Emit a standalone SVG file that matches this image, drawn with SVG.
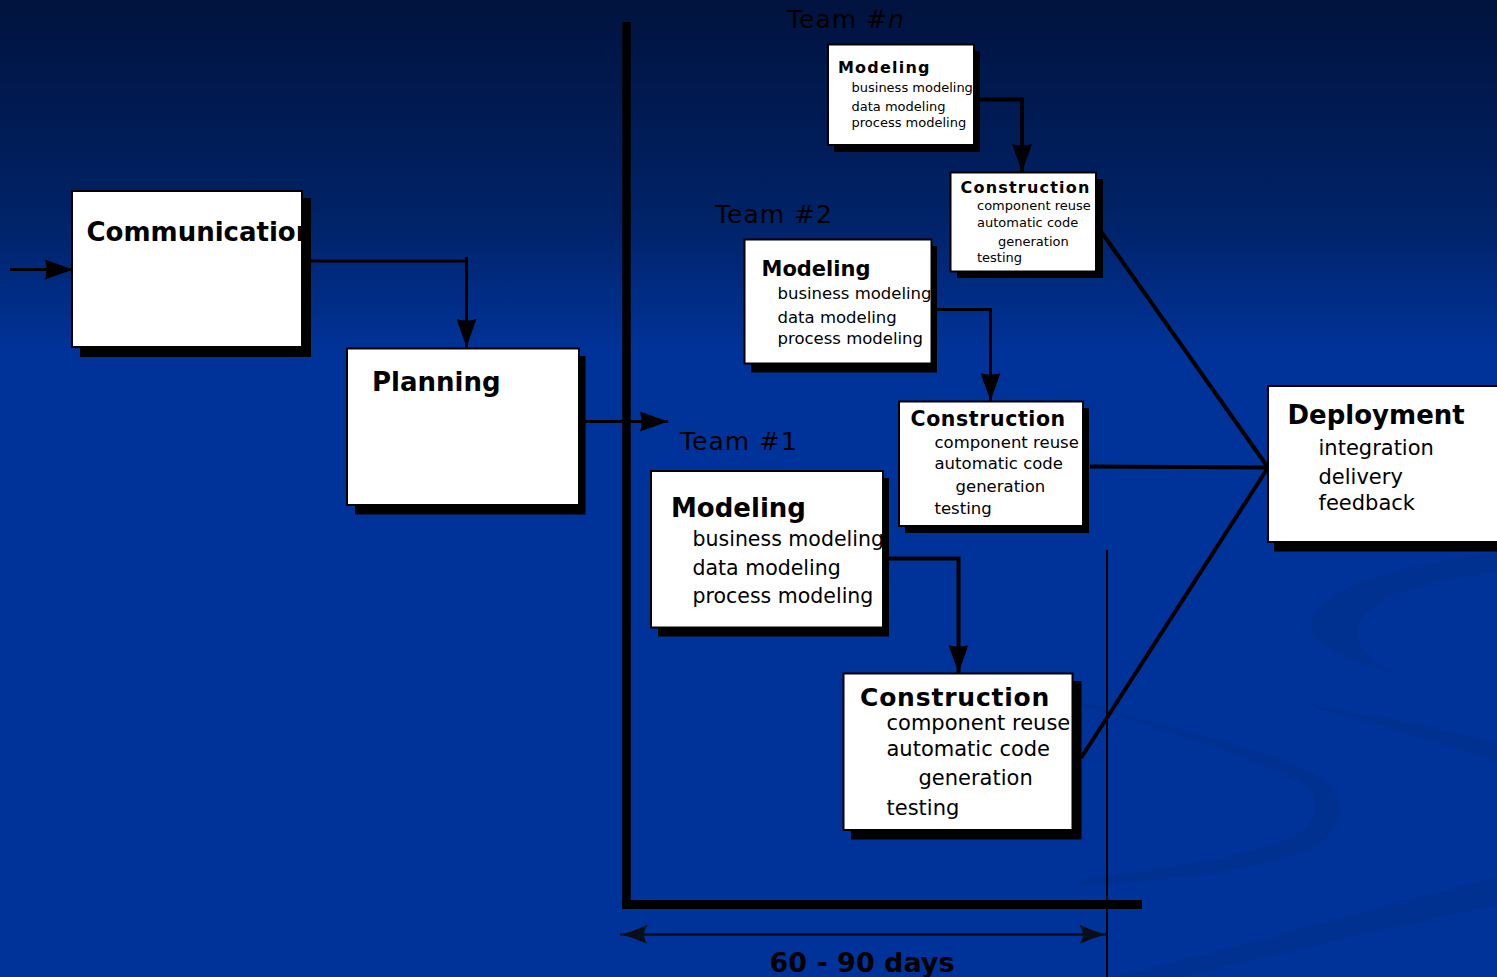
<svg xmlns="http://www.w3.org/2000/svg" width="1497" height="977" viewBox="0 0 1497 977">
  <defs>
    <linearGradient id="bg" x1="0" y1="0" x2="0" y2="977" gradientUnits="userSpaceOnUse">
      <stop offset="0" stop-color="#00133e"/>
      <stop offset="0.22" stop-color="#002266"/>
      <stop offset="0.36" stop-color="#003399"/>
      <stop offset="1" stop-color="#003399"/>
    </linearGradient>
    <marker id="arrow" viewBox="0 0 28 20" refX="28" refY="10" markerWidth="28" markerHeight="20" markerUnits="userSpaceOnUse" orient="auto">
      <path d="M0,0 Q14,5 28,10 Q14,15 0,20 Q3,10 0,0 Z" fill="#000"/>
    </marker>
    <marker id="dim" viewBox="0 0 28 20" refX="28" refY="10" markerWidth="28" markerHeight="20" markerUnits="userSpaceOnUse" orient="auto-start-reverse">
      <path d="M0,0 Q14,7 28,10 Q14,13 0,20 Q8,10 0,0 Z" fill="#0a0e16"/>
    </marker>
    <clipPath id="commClip">
      <rect x="72" y="190" width="231" height="158"/>
    </clipPath>
  </defs>
  <style>
    .shadow { fill: #000; }
    .box { fill: #fff; stroke: #000; stroke-width: 2; }
    .title { font-family: "DejaVu Sans", "Liberation Sans", sans-serif; font-weight: bold; fill: #000; }
    .item { font-family: "DejaVu Sans", "Liberation Sans", sans-serif; fill: #000; }
    .team { font-family: "DejaVu Sans", "Liberation Sans", sans-serif; font-size: 25px; letter-spacing: 1px; fill: #000; }
    .flow { fill: none; stroke: #000; stroke-width: 3; }
    .merge { fill: none; stroke: #000; stroke-width: 4; }
    .swirl { fill: #003191; }
  </style>

  <!-- background -->
  <rect x="0" y="0" width="1497" height="977" fill="url(#bg)"/>
  <g id="swirls">
    <path class="swirl" d="M1497,553 C1400,562 1318,590 1311,622 C1306,645 1350,662 1393,673 C1368,660 1352,642 1360,622 C1372,596 1440,578 1497,573 Z"/>
    <path class="swirl" d="M1290,700 C1360,712 1440,728 1497,742 L1497,762 C1430,740 1360,720 1290,700 Z"/>
    <path class="swirl" d="M1080,702 C1180,728 1270,752 1313,773 C1345,790 1350,822 1318,845 C1270,870 1180,880 1080,886 L1080,878 C1170,868 1260,855 1300,832 C1322,815 1318,792 1300,782 C1250,758 1170,730 1080,706 Z"/>
    <path class="swirl" d="M1497,877 C1380,905 1250,945 1110,977 L1180,977 C1300,950 1400,925 1497,905 Z"/>
  </g>

  <!-- time axis -->
  <g id="axis">
    <line x1="626.5" y1="22" x2="626.5" y2="908" stroke="#000" stroke-width="8.5"/>
    <line x1="622" y1="904.5" x2="1142" y2="904.5" stroke="#000" stroke-width="9"/>
    <line x1="1107" y1="550" x2="1107" y2="977" stroke="#000" stroke-width="2"/>
    <line x1="620" y1="934.5" x2="1107" y2="934.5" stroke="#0a0e16" stroke-width="2.5" marker-start="url(#dim)" marker-end="url(#dim)"/>
    <text x="862" y="972" text-anchor="middle" class="title" font-size="27" fill="#05080f">60 - 90 days</text>
  </g>

  <!-- team labels -->
  <g id="team-labels">
    <text x="787" y="28" class="team">Team #<tspan font-style="italic">n</tspan></text>
    <text x="715" y="223" class="team">Team #2</text>
    <text x="680" y="450" class="team">Team #1</text>
  </g>

  <!-- connectors -->
  <g id="connectors">
    <line x1="10" y1="269.5" x2="73" y2="269.5" class="flow" marker-end="url(#arrow)"/>
    <path d="M311,261 H466.5 V347" class="flow" marker-end="url(#arrow)"/>
    <line x1="466.5" y1="257" x2="466.5" y2="262" stroke="#000" stroke-width="3"/>
    <line x1="585" y1="421.5" x2="668" y2="421.5" class="flow" marker-end="url(#arrow)"/>
    <path d="M980,99.5 H1022 V172" class="merge" marker-end="url(#arrow)"/>
    <path d="M937,309.5 H990.5 V401" class="flow" marker-end="url(#arrow)"/>
    <path d="M889,558.5 H958.5 V673" class="merge" marker-end="url(#arrow)"/>
    <line x1="1100" y1="230" x2="1268" y2="467.5" class="merge"/>
    <line x1="1090" y1="466.5" x2="1268" y2="467.5" class="merge"/>
    <line x1="1081" y1="758" x2="1268" y2="467.5" class="merge"/>
  </g>

  <!-- framework activities -->
  <g id="communication">
    <rect x="80" y="198" width="231" height="159" class="shadow"/>
    <rect x="72" y="191" width="230" height="156" class="box"/>
    <text x="86.5" y="241" class="title" font-size="26" clip-path="url(#commClip)">Communication</text>
  </g>

  <g id="planning">
    <rect x="355" y="356" width="230.5" height="158.5" class="shadow"/>
    <rect x="347" y="348.5" width="232" height="156.5" class="box"/>
    <text x="372" y="391" class="title" font-size="26">Planning</text>
  </g>

  <g id="team-n-modeling">
    <rect x="834" y="51" width="146" height="101" class="shadow"/>
    <rect x="828" y="44.5" width="146" height="100.5" class="box"/>
    <text x="838" y="73" class="title" font-size="16" letter-spacing="1.2">Modeling</text>
    <g class="item" font-size="13">
      <text x="851.5" y="91.5">business modeling</text>
      <text x="851.5" y="110.5">data modeling</text>
      <text x="851.5" y="126.5">process modeling</text>
    </g>
  </g>

  <g id="team-n-construction">
    <rect x="957" y="179" width="146" height="99" class="shadow"/>
    <rect x="950.5" y="172.5" width="145.5" height="99" class="box"/>
    <text x="960.5" y="192.5" class="title" font-size="16" letter-spacing="1.2">Construction</text>
    <g class="item" font-size="13">
      <text x="977" y="209.5">component reuse</text>
      <text x="977" y="227">automatic code</text>
      <text x="998" y="245.5">generation</text>
      <text x="977" y="262">testing</text>
    </g>
  </g>

  <g id="team-2-modeling">
    <rect x="751" y="246" width="186" height="126.5" class="shadow"/>
    <rect x="744.5" y="239.5" width="187" height="124" class="box"/>
    <text x="761.5" y="276" class="title" font-size="21">Modeling</text>
    <g class="item" font-size="16.5">
      <text x="777.5" y="298.5">business modeling</text>
      <text x="777.5" y="322.5">data modeling</text>
      <text x="777.5" y="343.5">process modeling</text>
    </g>
  </g>

  <g id="team-2-construction">
    <rect x="905" y="408" width="184" height="125" class="shadow"/>
    <rect x="899" y="401.5" width="184" height="124.5" class="box"/>
    <text x="910.5" y="426" class="title" font-size="20.5" letter-spacing="0.6">Construction</text>
    <g class="item" font-size="16.5">
      <text x="934.5" y="447.5">component reuse</text>
      <text x="934.5" y="468.5">automatic code</text>
      <text x="955.5" y="491.5">generation</text>
      <text x="934.5" y="514">testing</text>
    </g>
  </g>

  <g id="team-1-modeling">
    <rect x="658" y="478" width="231" height="158.5" class="shadow"/>
    <rect x="651" y="471" width="232" height="156.5" class="box"/>
    <text x="671" y="517" class="title" font-size="26">Modeling</text>
    <g class="item" font-size="20.5">
      <text x="692.5" y="546">business modeling</text>
      <text x="692.5" y="575">data modeling</text>
      <text x="692.5" y="602.5">process modeling</text>
    </g>
  </g>

  <g id="team-1-construction">
    <rect x="851" y="681" width="230.5" height="158.5" class="shadow"/>
    <rect x="843.5" y="673.5" width="229" height="156.5" class="box"/>
    <text x="860" y="706" class="title" font-size="25" letter-spacing="0.8">Construction</text>
    <g class="item" font-size="21">
      <text x="886.5" y="729.5">component reuse</text>
      <text x="886.5" y="755.5">automatic code</text>
      <text x="918.5" y="785">generation</text>
      <text x="886.5" y="814.5">testing</text>
    </g>
  </g>

  <g id="deployment">
    <rect x="1274" y="393" width="240" height="158.5" class="shadow"/>
    <rect x="1268" y="386" width="240" height="156" class="box"/>
    <text x="1287.5" y="423.5" class="title" font-size="26">Deployment</text>
    <g class="item" font-size="21">
      <text x="1318.5" y="455">integration</text>
      <text x="1318.5" y="483.5">delivery</text>
      <text x="1318.5" y="510">feedback</text>
    </g>
  </g>
</svg>
